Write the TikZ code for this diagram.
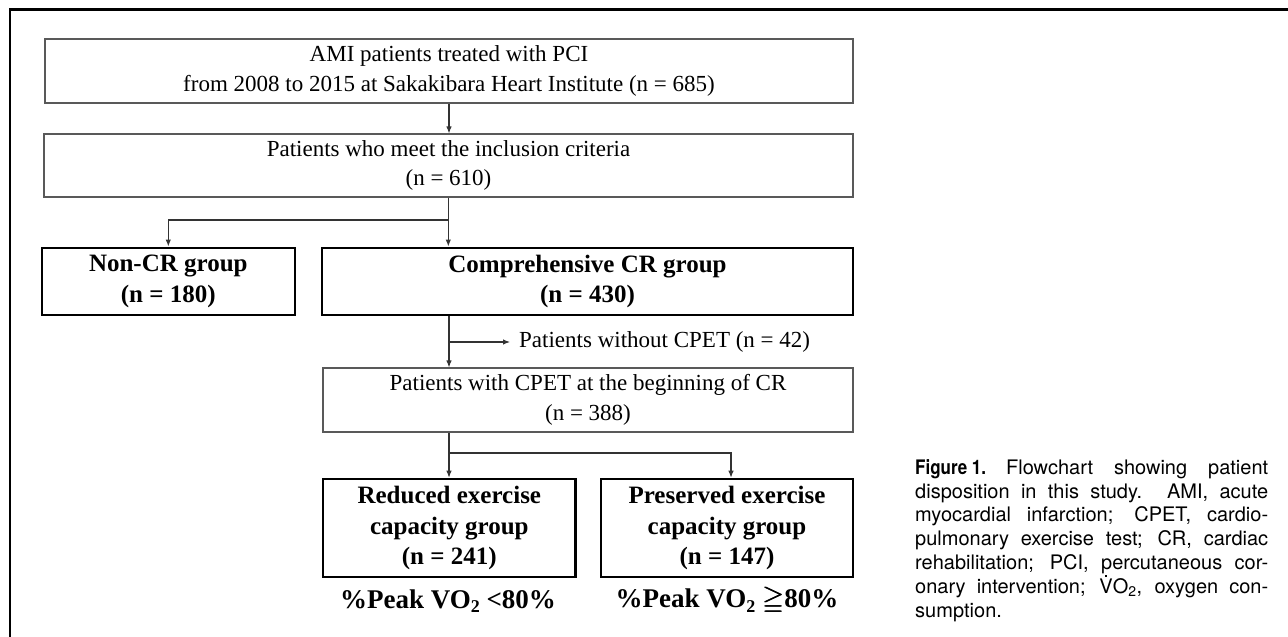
\documentclass[tikz,border=0pt]{standalone}
\usepackage{amssymb}
\usepackage{fontspec}
\setmainfont{Liberation Serif}
\newfontfamily\capfont{TeX Gyre Heros}
\usetikzlibrary{arrows.meta}
\newcommand{\subtwo}{\raisebox{-0.35ex}{\fontsize{18}{18}\selectfont 2}}
\newcommand{\heavygeqq}{\makebox[0pt][l]{$\geqq$}\hspace{0.7pt}\makebox[0pt][l]{$\geqq$}\hspace{0.7pt}$\geqq$}
\newcommand{\dotV}{\ooalign{V\cr\hidewidth\rule[16pt]{2pt}{2pt}\hidewidth\cr}}
\newcommand{\capline}[1]{\makebox[353pt][s]{#1}}
\tikzset{
  thinbox/.style={draw=black!65, line width=1.1pt, align=center, inner sep=0pt,
    font=\fontsize{23}{29.5}\selectfont},
  groupbox/.style={draw=black, line width=2.6pt, align=center, inner sep=0pt,
    font=\fontsize{25}{30.5}\selectfont\bfseries},
  link/.style={draw=black!80, line width=1.1pt},
  captext/.style={anchor=base west, inner sep=0pt, font=\capfont\fontsize{20}{24}\selectfont},
}
\begin{document}
\begin{tikzpicture}[x=1pt,y=-1pt,>={Latex[length=7pt,width=5.5pt]}]
\useasboundingbox (0,0) rectangle (1288,637);
% Frame
\draw [line width=2.6pt] (10,637) -- (10,9.5) -- (1288,9.5);
%%
% Node: amibox
\node [thinbox, minimum width=808pt, minimum height=64pt] (amibox) at (449,71)
  {AMI patients treated with PCI\\from 2008 to 2015 at Sakakibara Heart Institute (n = 685)};
% Node: inclbox
\node [thinbox, minimum width=809pt, minimum height=63pt] (inclbox) at (448.5,165.5)
  {Patients who meet the inclusion criteria\\(n = 610)};
% Node: noncr
\node [groupbox, minimum width=253pt, minimum height=67pt] (noncr) at (168.3,281.3)
  {Non-CR group\\(n = 180)};
% Node: comp
\node [groupbox, minimum width=531pt, minimum height=67pt] (comp) at (587.5,281.3)
  {Comprehensive CR group\\(n = 430)};
% Node: without
\node [anchor=west, inner sep=0pt, font=\fontsize{23}{29.5}\selectfont] (without) at (519,342)
  {Patients without CPET (n = 42)};
% Node: cpet
\node [thinbox, minimum width=530pt, minimum height=64pt] (cpet) at (588,400)
  {Patients with CPET at the beginning of CR\\(n = 388)};
% Node: reduced
\node [groupbox, minimum width=252.7pt, minimum height=98pt] (reduced) at (449.3,528)
  {Reduced exercise\\capacity group\\(n = 241)};
% Node: preserved
\node [groupbox, minimum width=252pt, minimum height=98pt] (preserved) at (727,528)
  {Preserved exercise\\capacity group\\(n = 147)};
% Node: lowlabel, highlabel
\node [font=\fontsize{27}{30}\selectfont\bfseries, inner sep=0pt] (lowlabel) at (448,601)
  {\%Peak VO\subtwo{} <80\%};
\node [font=\fontsize{27}{30}\selectfont\bfseries, inner sep=0pt] (highlabel) at (727,601)
  {\%Peak VO\subtwo{} \heavygeqq{}80\%};
% Node: caption lines
\node [captext] (cap1) at (915,474)
  {\capline{\scalebox{0.85}[1]{\bfseries Figure 1.}\quad Flowchart showing patient}};
\node [captext] (cap2) at (915,498) {\capline{disposition in this study. AMI, acute}};
\node [captext] (cap3) at (915,521) {\capline{myocardial infarction; CPET, cardio-}};
\node [captext] (cap4) at (915,545) {\capline{pulmonary exercise test; CR, cardiac}};
\node [captext] (cap5) at (915,569) {\capline{rehabilitation; PCI, percutaneous cor-}};
\node [captext] (cap6) at (915,593) {\capline{onary intervention; \dotV O\textsubscript{2}, oxygen con-}};
\node [captext] (cap7) at (915,617) {sumption.};
%%
% Edge: amibox -- inclbox
\draw [link, ->] (amibox.south) -- (inclbox.north -| amibox.south);
% Edge: inclbox -- noncr, comp
\coordinate (split1) at (448.3,220);
\draw [link] (inclbox.south -| split1) -- (split1);
\draw [link, ->] (split1) -| (noncr.north);
\draw [link, ->] (split1) -- (split1 |- comp.north);
% Edge: comp -- cpet, without
\coordinate (split2) at (449,342);
\draw [link, ->] (comp.south -| split2) -- (split2 |- cpet.north);
\draw [link, ->] (split2) -- ([xshift=-9pt]without.west);
% Edge: cpet -- reduced, preserved
\coordinate (split3) at (449,453);
\coordinate (split4) at (731,453);
\draw [link] (cpet.south -| split3) -- (split3);
\draw [link, ->] (split3) -- (split3 |- reduced.north);
\draw [link, ->] (split3) -- (split4) -- (split4 |- preserved.north);
\end{tikzpicture}
\end{document}
